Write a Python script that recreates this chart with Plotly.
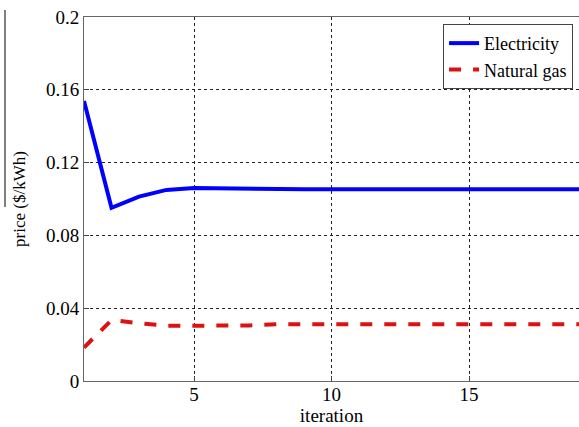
import plotly.graph_objects as go

iterations = list(range(1, 20))
electricity = [0.1538, 0.0952, 0.1013, 0.1050, 0.1060, 0.1058, 0.1054, 0.1054, 0.1054, 0.1054,
               0.1054, 0.1054, 0.1054, 0.1054, 0.1054, 0.1054, 0.1054, 0.1054, 0.1054]
natural_gas = [0.0184, 0.0335, 0.0317, 0.0304, 0.0304, 0.0304, 0.0305, 0.0312, 0.0312, 0.0312,
               0.0312, 0.0312, 0.0312, 0.0312, 0.0312, 0.0312, 0.0312, 0.0312, 0.0312]
x_ticks = [5, 10, 15]
y_ticks = [0, 0.04, 0.08, 0.12, 0.16, 0.2]
y_tick_labels = ["0", "0.04", "0.08", "0.12", "0.16", "0.2"]

FONT = "Liberation Serif"

fig = go.Figure()
fig.add_trace(go.Scatter(x=iterations, y=electricity, mode="lines", name="Electricity",
                         line=dict(color="#0000ff", width=4)))
fig.add_trace(go.Scatter(x=iterations, y=natural_gas, mode="lines", name="Natural gas",
                         line=dict(color="#dd1111", width=4, dash="dash")))

fig.update_layout(
    width=579, height=427,
    margin=dict(l=84, r=0, t=17, b=46),
    paper_bgcolor="white", plot_bgcolor="white",
    font=dict(family=FONT, size=19, color="black"),
    showlegend=True,
    legend=dict(x=0.988, y=0.981, xanchor="right", yanchor="top",
                bgcolor="white", bordercolor="#444", borderwidth=1,
                font=dict(family=FONT, size=18), tracegroupgap=0,
                entrywidth=120),
    xaxis=dict(range=[1, 19], tickvals=x_ticks, ticks="inside", ticklen=5,
               tickcolor="#444", showline=True, linecolor="#666", linewidth=1, mirror=True,
               showgrid=True, gridcolor="#222", griddash="dot", gridwidth=1,
               ticklabelstandoff=-4,
               zeroline=False, title=dict(text="iteration", standoff=0,
                                          font=dict(family=FONT, size=19))),
    yaxis=dict(range=[0, 0.2], tickvals=y_ticks, ticktext=y_tick_labels, ticks="inside",
               ticklen=5, tickcolor="#444", showline=True, linecolor="#666", linewidth=1,
               showgrid=True, gridcolor="#222", griddash="dot", gridwidth=1,
               zeroline=False, title=dict(text="price ($/kWh)", standoff=16,
                                          font=dict(family=FONT, size=17))),
)

# scan artifact: thin vertical line at far left
fig.add_shape(type="line", xref="paper", yref="paper",
              x0=(5 - 84) / 495, x1=(5 - 84) / 495,
              y0=(381 - 10) / 364, y1=(381 - 207) / 364,
              line=dict(color="black", width=1))

fig.write_html("out.html", config={"displayModeBar": False},
               post_script="document.body.style.margin='0';")
